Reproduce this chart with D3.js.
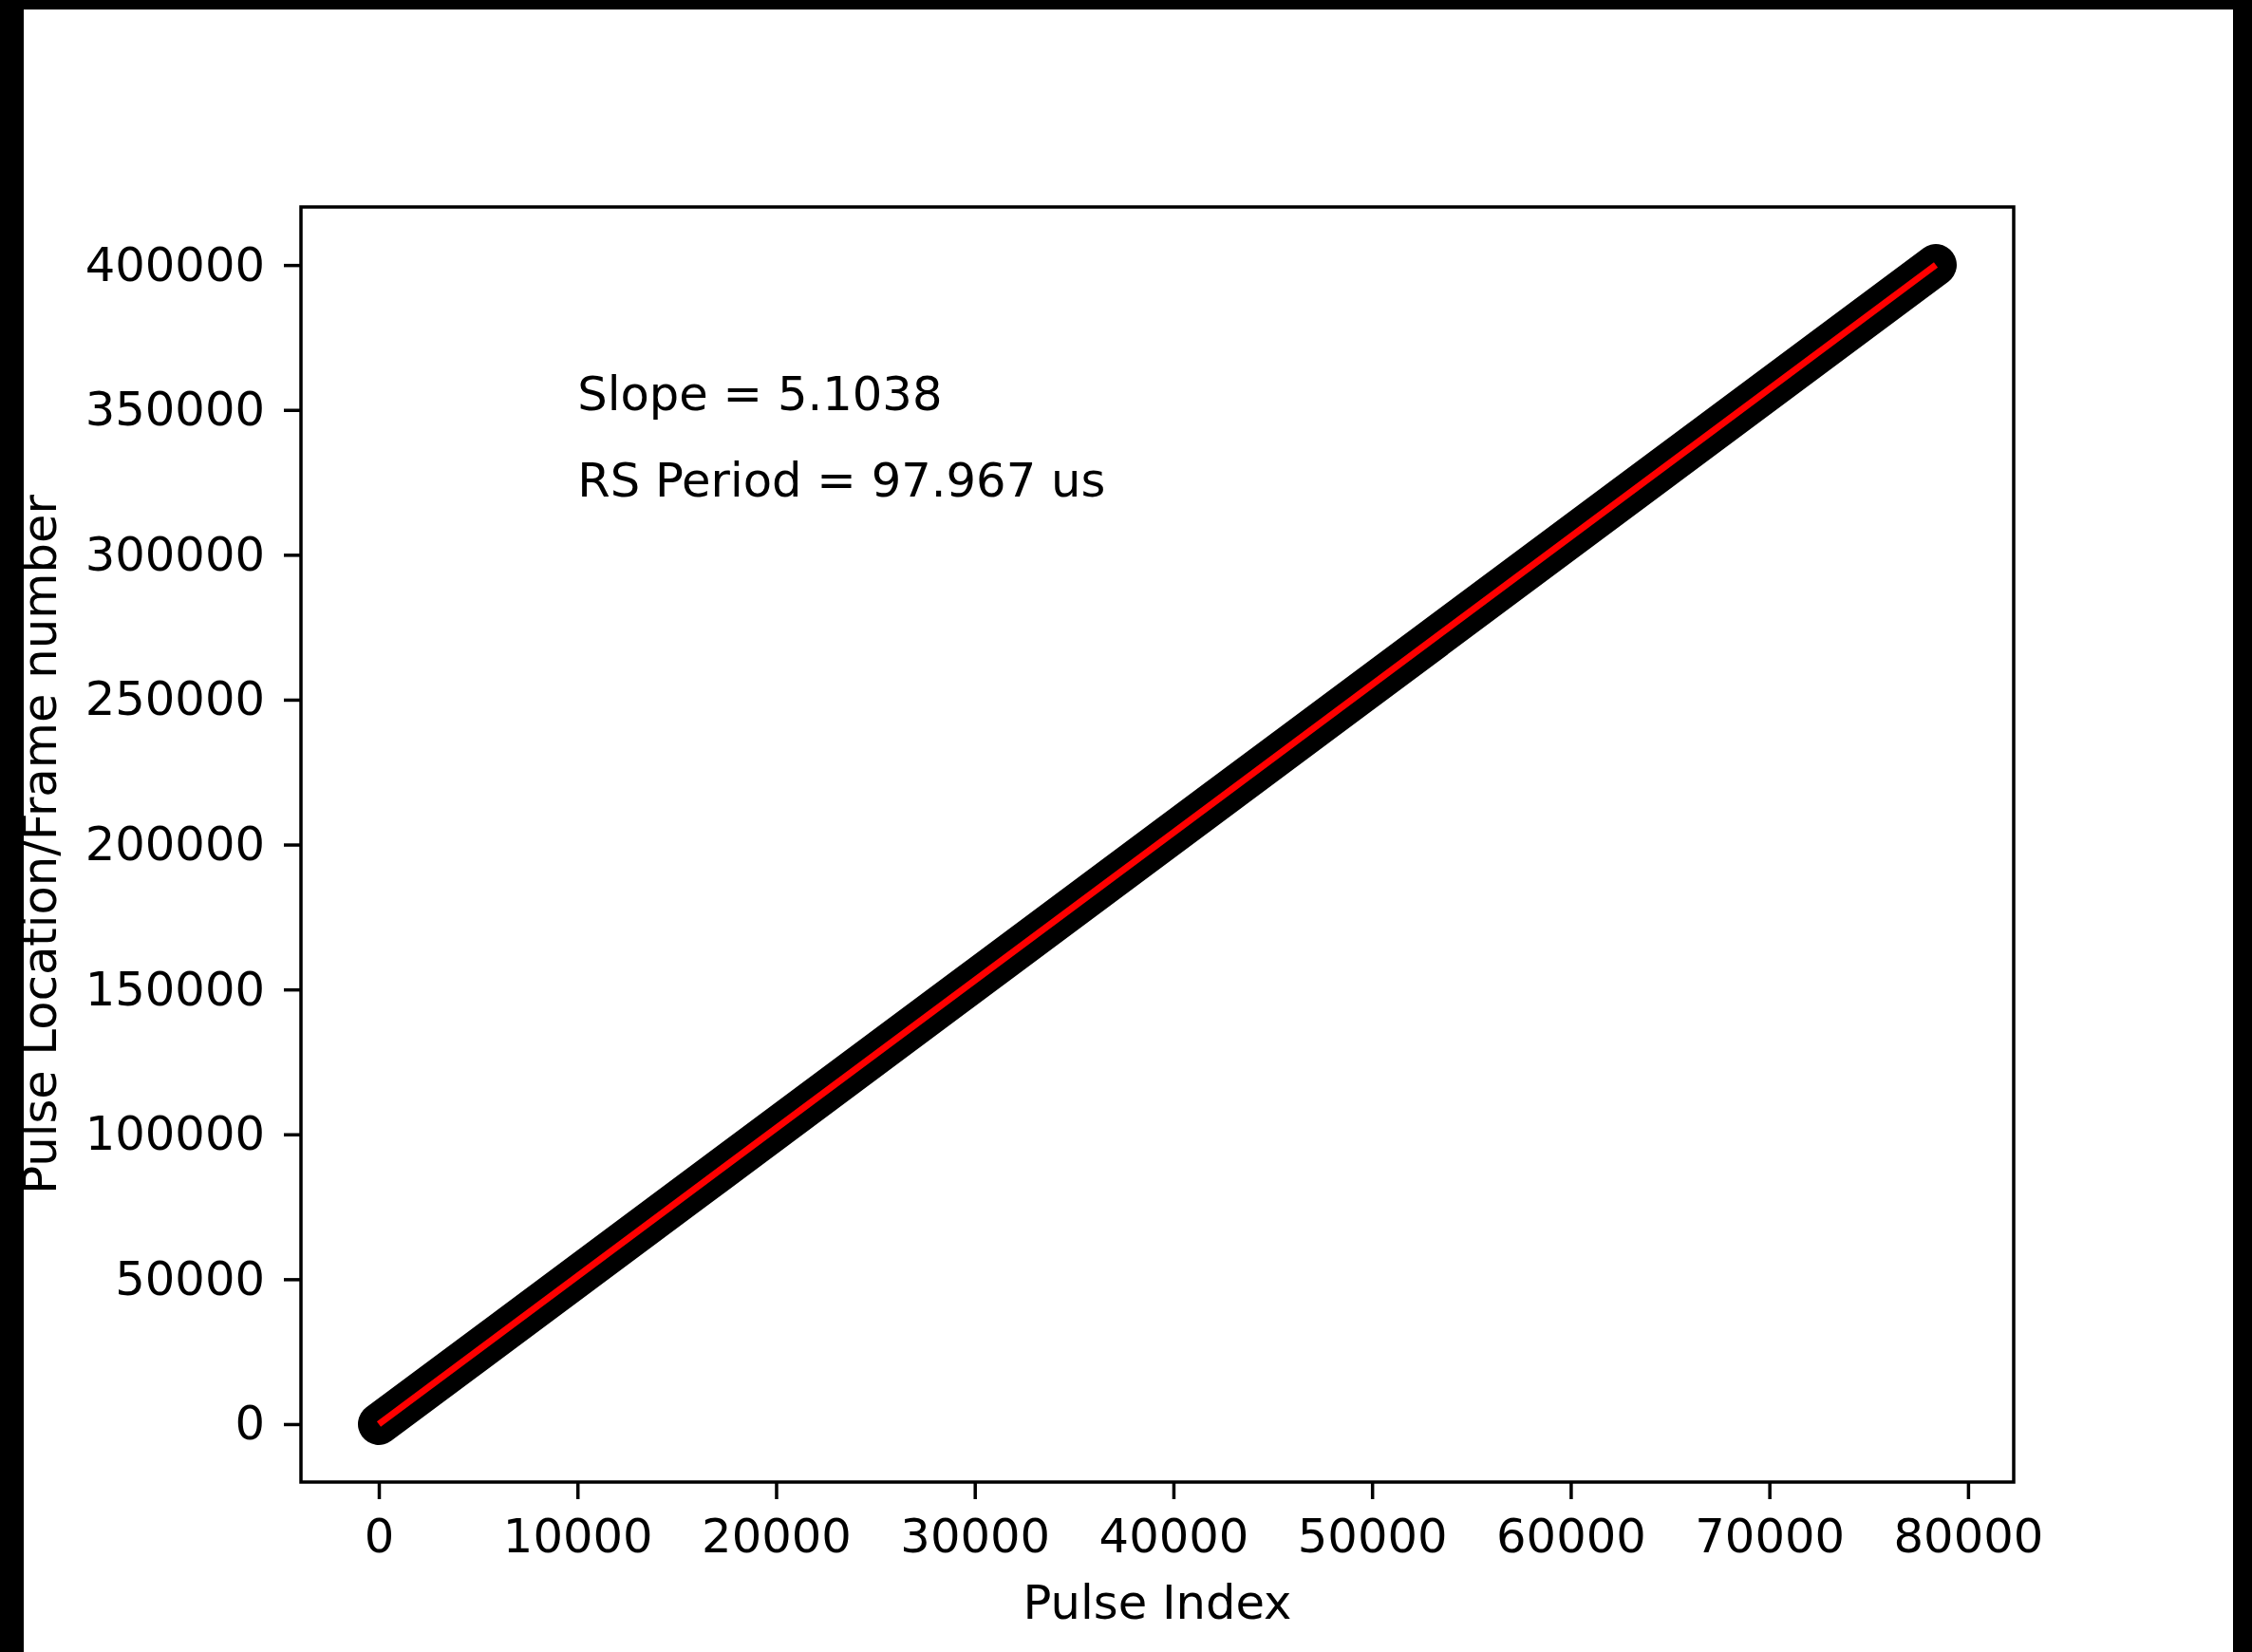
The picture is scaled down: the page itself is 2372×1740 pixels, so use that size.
<!DOCTYPE html>
<html>
<head>
<meta charset="utf-8">
<script src="https://cdn.jsdelivr.net/npm/d3@7"></script>
<style>
  body { margin: 0; background: #000; }
  text { font-family: "DejaVu Sans", sans-serif; }
</style>
</head>
<body>
<div id="chart"></div>
<script>
// measured pulses: first and last (the scatter is a dense continuous band between them)
const pulseIndex = [0, 78380];
const pulseLocation = [0, 400030];

// linear fit
const fitSlope = 5.1038;
const fitIntercept = 0;
const notes = ["Slope = 5.1038", "RS Period = 97.967 us"];
const noteY = [350000, 320000];
const noteX = 10000;

const xTicks = [0, 10000, 20000, 30000, 40000, 50000, 60000, 70000, 80000];
const yTicks = [0, 50000, 100000, 150000, 200000, 250000, 300000, 350000, 400000];

const W = 2372, H = 1740;
const fig = { left: 25, top: 10, right: 2352, bottom: 1740 };
const margin = { top: 218, left: 317, right: 2121, bottom: 1561 };
const fs = 49.6;

const svg = d3.select("#chart")
    .append("svg")
    .attr("width", W)
    .attr("height", H);

svg.append("rect").attr("width", W).attr("height", H).attr("fill", "#000");
svg.append("rect")
    .attr("x", fig.left).attr("y", fig.top)
    .attr("width", fig.right - fig.left).attr("height", fig.bottom - fig.top)
    .attr("fill", "#fff");

// matplotlib style 5% autoscale margin
const xExt = d3.extent(pulseIndex), yExt = d3.extent(pulseLocation);
const xPad = (xExt[1] - xExt[0]) * 0.05, yPad = (yExt[1] - yExt[0]) * 0.05;

const x = d3.scaleLinear()
    .domain([xExt[0] - xPad, xExt[1] + xPad])
    .range([margin.left, margin.right]);
const y = d3.scaleLinear()
    .domain([yExt[0] - yPad, yExt[1] + yPad])
    .range([margin.bottom, margin.top]);

const pts = pulseIndex.map((d, i) => [d, pulseLocation[i]]);

// black scatter band
svg.append("path")
    .datum(pts)
    .attr("d", d3.line().x(d => x(d[0])).y(d => y(d[1])))
    .attr("fill", "none")
    .attr("stroke", "#000")
    .attr("stroke-width", 44)
    .attr("stroke-linecap", "round");

// fitted line in red
const fit = xExt.map(v => [v, fitSlope * v + fitIntercept]);
svg.append("path")
    .datum(fit)
    .attr("d", d3.line().x(d => x(d[0])).y(d => y(d[1])))
    .attr("fill", "none")
    .attr("stroke", "#ff0000")
    .attr("stroke-width", 7);

// axes
const xAxis = svg.append("g")
    .attr("transform", `translate(0, ${margin.bottom})`)
    .call(d3.axisBottom(x).tickValues(xTicks).tickFormat(d3.format("d")).tickSize(18).tickPadding(21));
const yAxis = svg.append("g")
    .attr("transform", `translate(${margin.left}, 0)`)
    .call(d3.axisLeft(y).tickValues(yTicks).tickFormat(d3.format("d")).tickSize(18).tickPadding(20));

[xAxis, yAxis].forEach(g => {
    g.select(".domain").remove();
    g.selectAll(".tick line").attr("stroke", "#000").attr("stroke-width", 3.5);
    g.selectAll(".tick text")
        .style("font-size", fs + "px")
        .style("font-family", "DejaVu Sans")
        .attr("fill", "#000");
});

// frame
svg.append("rect")
    .attr("x", margin.left).attr("y", margin.top)
    .attr("width", margin.right - margin.left)
    .attr("height", margin.bottom - margin.top)
    .attr("fill", "none")
    .attr("stroke", "#000")
    .attr("stroke-width", 3.5);

// annotations
svg.selectAll(".note")
    .data(notes)
    .enter()
    .append("text")
    .attr("class", "note")
    .attr("x", x(noteX))
    .attr("y", (d, i) => y(noteY[i]))
    .style("font-size", fs + "px")
    .text(d => d);

// axis titles
svg.append("text")
    .attr("x", (margin.left + margin.right) / 2)
    .attr("y", 1705)
    .attr("text-anchor", "middle")
    .style("font-size", fs + "px")
    .text("Pulse Index");

svg.append("text")
    .attr("transform", `translate(59, ${(margin.top + margin.bottom) / 2}) rotate(-90)`)
    .attr("text-anchor", "middle")
    .style("font-size", fs + "px")
    .text("Pulse Location/Frame number");
</script>
</body>
</html>
